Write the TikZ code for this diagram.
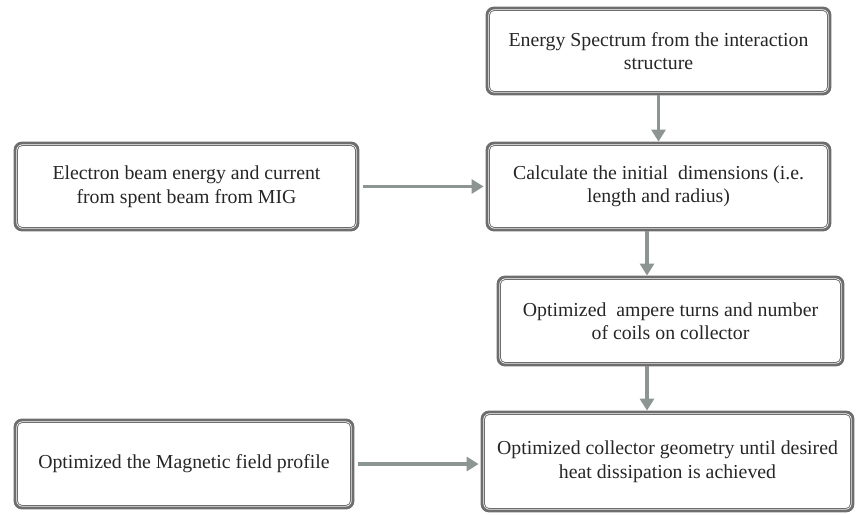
\documentclass[tikz,border=0pt]{standalone}
\usepackage{fontspec}
\setmainfont{Liberation Serif}
\usetikzlibrary{positioning, arrows.meta}
\definecolor{rimgray}{HTML}{6E6E6E}
\definecolor{flowgray}{HTML}{8C9591}

\begin{document}
\begin{tikzpicture}[x=1pt, y=-1pt]
    \useasboundingbox (0,0) rectangle (856,514);
    \coordinate (axis) at (647,0);

    \begin{scope}[every node/.style={rectangle, rounded corners=7pt, draw=rimgray, line width=2.8pt, align=center, text=black!85, inner sep=0pt, font=\fontsize{19.8}{23.5}\selectfont}]
        \node (spec) [minimum width=343pt, minimum height=86pt] at (658.5,51) {Energy Spectrum from the interaction\\structure};
        \node (calc) [minimum width=343pt, minimum height=87pt] at (658.5,186.5) {Calculate the initial\ \ dimensions (i.e.\\length and radius)};
        \node (elec) [minimum width=343pt, minimum height=87pt] at (186.5,186.5) {Electron beam energy and current\\from spent beam from MIG};
        \node (amp) [minimum width=345pt, minimum height=88pt] at (670.5,321) {Optimized\ \ ampere turns and number\\of coils on collector};
        \node (geom) [minimum width=371pt, minimum height=99pt] at (667.5,461.5) {Optimized collector geometry until desired\\heat dissipation is achieved};
        \node (magn) [minimum width=338pt, minimum height=88pt] at (184,464) {Optimized the Magnetic field profile};
    \end{scope}

    % inner rims
    \foreach \n in {spec, calc, elec, amp, geom, magn}
        \draw [rimgray, line width=0.8pt, rounded corners=5pt] ([shift={(3.8pt,-3.8pt)}]\n.north west) rectangle ([shift={(-3.8pt,3.8pt)}]\n.south east);

    \begin{scope}[every edge/.style={draw=flowgray, line width=3.8pt, -{Triangle[length=12pt, width=14pt]}}]
        \path (spec) edge (calc);
        \path (elec) edge [shorten <=4pt, shorten >=2pt] (calc);
        \path (calc.south -| axis) edge (amp.north -| axis);
        \path (amp.south -| axis) edge (geom.north -| axis);
        \path (magn.east) edge [shorten <=4pt, shorten >=2pt] (magn.east -| geom.west);
    \end{scope}
\end{tikzpicture}
\end{document}
